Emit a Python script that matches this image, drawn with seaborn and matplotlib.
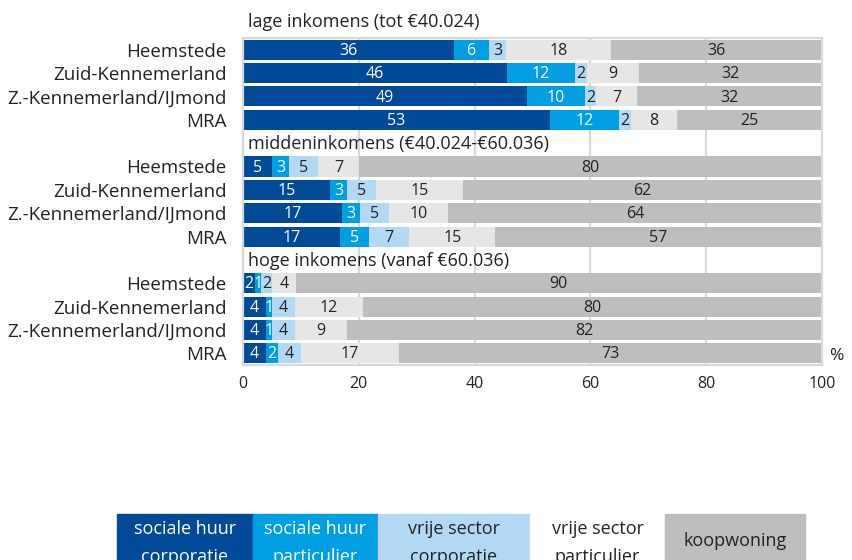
import numpy as np
import pandas as pd
import matplotlib
matplotlib.use("Agg")
import matplotlib.pyplot as plt
import seaborn as sns

# woningvoorraad per inkomensgroep, % van de huishoudens
categories = ['sociale huur corporatie', 'sociale huur particulier',
              'vrije sector corporatie', 'vrije sector particulier', 'koopwoning']
legend_lines = [('sociale huur', 'corporatie'), ('sociale huur', 'particulier'),
                ('vrije sector', 'corporatie'), ('vrije sector', 'particulier'),
                ('koopwoning',)]
regions = ['Heemstede', 'Zuid-Kennemerland', 'Z.-Kennemerland/IJmond', 'MRA']
groups = ['lage inkomens (tot €40.024)', 'middeninkomens (€40.024-€60.036)',
          'hoge inkomens (vanaf €60.036)']

lage = [[36, 6, 3, 18, 36],
        [46, 12, 2, 9, 32],
        [49, 10, 2, 7, 32],
        [53, 12, 2, 8, 25]]
midden = [[5, 3, 5, 7, 80],
          [15, 3, 5, 15, 62],
          [17, 3, 5, 10, 64],
          [17, 5, 7, 15, 57]]
hoge = [[2, 1, 2, 4, 90],
        [4, 1, 4, 12, 80],
        [4, 1, 4, 9, 82],
        [4, 2, 4, 17, 73]]
xticks = [0, 20, 40, 60, 80, 100]

colors = ['#004A98', '#009FE3', '#B3D8F3', '#E6E6E6', '#BEBEBE']
legend_fill = ['#004A98', '#009FE3', '#B3D8F3', '#FFFFFF', '#BEBEBE']
text_col = ['white', 'white', '#222222', '#222222', '#222222']

sns.set_theme(style='white')
plt.rcParams['font.family'] = ['Open Sans', 'DejaVu Sans']

# long table: one row per segment, 100%-stacked like the Excel chart
rows = []
ytick_pos, ytick_lab, header_pos = [], [], []
pos = -1
for g, block in zip(groups, [lage, midden, hoge]):
    header_pos.append(pos)
    for reg, vals in zip(regions, block):
        pos += 1
        tot = sum(vals)
        cum = np.cumsum(vals) / tot * 100
        ytick_pos.append(pos)
        ytick_lab.append(reg)
        for i, c in enumerate(categories):
            rows.append(dict(pos=pos, cat=c, val=vals[i], cum=cum[i],
                             mid=cum[i] - vals[i] / tot * 50))
    pos += 1
df = pd.DataFrame(rows)

fig = plt.figure(figsize=(8.52, 5.6), dpi=100)
ax = fig.add_axes([0.2852, 0.3482, 0.6796, 0.5839])

# draw cumulative bars from the back (koopwoning = 100) to the front
sns.barplot(data=df, x='cum', y='pos', hue='cat', hue_order=categories[::-1],
            palette=dict(zip(categories, colors)), orient='h', native_scale=True,
            dodge=False, width=0.86, saturation=1, errorbar=None, legend=False,
            linewidth=0, ax=ax)

for _, r in df.iterrows():
    i = categories.index(r['cat'])
    ax.text(r['mid'], r['pos'] + 0.05, f"{r['val']:d}", ha='center', va='center',
            fontsize=11.5, color=text_col[i])

for g, hp in zip(groups, header_pos):
    y = hp - 0.2 if hp < 0 else hp + 0.05
    ax.text(0.8, y, g, ha='left', va='center', fontsize=13, color='#222222',
            clip_on=False)

ax.set_xlim(0, 100)
ax.set_ylim(13.5, -0.5)
ax.set_xticks(xticks)
ax.set_xticklabels([str(t) for t in xticks], fontsize=11.5, color='#222222')
ax.set_yticks(ytick_pos)
ax.set_yticklabels(ytick_lab, fontsize=13.5, color='#222222')
ax.tick_params(axis='both', length=0)
ax.tick_params(axis='x', pad=8)
ax.tick_params(axis='y', pad=12)
ax.set_xlabel('')
ax.set_ylabel('')
ax.grid(axis='x', color='#D9D9D9', linewidth=1.6)
ax.grid(axis='y', visible=False)
ax.set_axisbelow(True)
for s in ax.spines.values():
    s.set_visible(True)
    s.set_color('#D9D9D9')
    s.set_linewidth(1.6)

fig.text(836 / 852, 1 - 356 / 560, '%', ha='center', va='center', fontsize=12.5,
         color='#222222')

# legend boxes along the bottom edge (partly cut off, as in the original)
edges = [117, 253, 378, 530, 665, 805]
W, H = 852, 560
for i, lines in enumerate(legend_lines):
    x0, x1 = edges[i], edges[i + 1]
    fig.patches.append(plt.Rectangle((x0 / W, 1 - 580 / H), (x1 - x0) / W, 66 / H,
                                     transform=fig.transFigure, color=legend_fill[i],
                                     zorder=0))
    xc = (x0 + x1) / 2 / W
    if len(lines) == 2:
        fig.text(xc, 1 - 529 / H, lines[0], ha='center', va='center', fontsize=13,
                 color=text_col[i])
        fig.text(xc, 1 - 557 / H, lines[1], ha='center', va='center', fontsize=13,
                 color=text_col[i])
    else:
        fig.text(xc, 1 - 541 / H, lines[0], ha='center', va='center', fontsize=13,
                 color=text_col[i])

fig.savefig('out.png', dpi=100)
